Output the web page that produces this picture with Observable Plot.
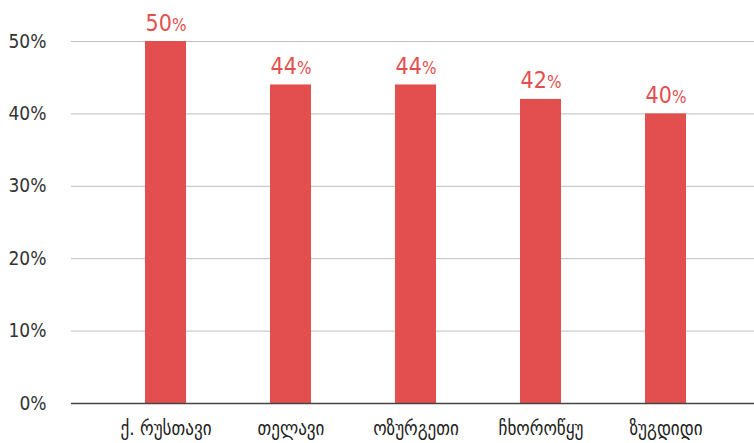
<!DOCTYPE html>
<html>
<head>
<meta charset="utf-8">
<script src="https://cdn.jsdelivr.net/npm/d3@7"></script>
<script src="https://cdn.jsdelivr.net/npm/@observablehq/plot@0.6"></script>
<style>
body { margin: 0; background: #fff; }
#chart svg { display: block; }
</style>
</head>
<body>
<div id="chart"></div>
<script>
const categories = ["ქ. რუსთავი", "თელავი", "ოზურგეთი", "ჩხოროწყუ", "ზუგდიდი"];
const values = [50, 44, 44, 42, 40];
const yTicks = [0, 10, 20, 30, 40, 50];

const data = categories.map((c, i) => ({ city: c, value: values[i] }));
const font = "'DejaVu Sans Condensed', 'DejaVu Sans', sans-serif";

const chart = Plot.plot({
  width: 754,
  height: 443,
  marginLeft: 71,
  marginRight: 0,
  marginTop: 41,
  marginBottom: 40,
  style: { fontFamily: font, background: "#fff" },
  x: { domain: categories, range: [143.5, 686.5], paddingInner: 0.673, paddingOuter: 0, label: null },
  y: { domain: [0, 50], label: null },
  marks: [
    Plot.ruleY(yTicks.filter(d => d > 0), { stroke: "#bdbdbd", strokeWidth: 1 }),
    Plot.barY(data, { x: "city", y: "value", fill: "#e34f4f" }),
    Plot.ruleY([0], { stroke: "#444", strokeWidth: 1.5 }),
    Plot.axisY({ ticks: yTicks, tickSize: 0, tickPadding: 25, tickFormat: d => d + "%", fontSize: 19, fill: "#333", anchor: "left" }),
    Plot.axisX({ tickSize: 0, tickPadding: 0, fontSize: 19, fill: "#222", dy: 18, label: null }),
    Plot.text(data, { x: "city", y: "value", text: d => String(d.value), dy: -11, fontSize: 23, fill: "#e34f4f", lineAnchor: "bottom", className: "vlabel" })
  ]
});

d3.select(chart).selectAll(".vlabel text").each(function() {
  const t = d3.select(this);
  const v = t.text();
  t.text(v);
  t.append("tspan").attr("font-size", 17).text("%");
});

document.getElementById("chart").appendChild(chart);
</script>
</body>
</html>
